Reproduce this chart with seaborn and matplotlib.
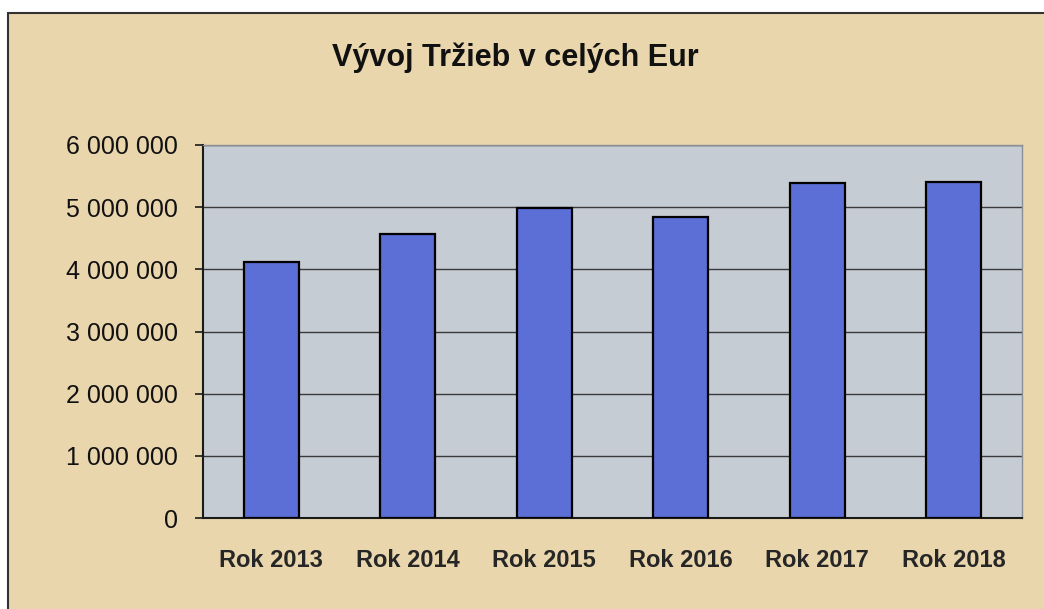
import matplotlib
matplotlib.use("Agg")
import matplotlib.pyplot as plt
import seaborn as sns
import pandas as pd
from matplotlib.patches import Rectangle
from matplotlib.ticker import FuncFormatter, MultipleLocator

categories = ["Rok 2013", "Rok 2014", "Rok 2015", "Rok 2016", "Rok 2017", "Rok 2018"]
trzby = [4120000, 4570000, 4990000, 4840000, 5390000, 5400000]
title = "Vývoj Tržieb v celých Eur"

df = pd.DataFrame({"rok": categories, "trzby": trzby})

sns.set_theme(style="white")
plt.rcParams["font.family"] = ["Liberation Sans", "DejaVu Sans"]

W, H = 1044, 609
fig = plt.figure(figsize=(W / 100, H / 100), dpi=100)
fig.patch.set_facecolor("white")

# parchment background with frame on top/left
bg = Rectangle((8 / W, -0.1), 1.2, 1.1 - 13 / H, transform=fig.transFigure,
               facecolor="#e9d6ad", edgecolor="#333333", linewidth=1.5, zorder=-10)
fig.patches.append(bg)

ax = fig.add_axes([203 / W, 1 - 518 / H, (1022 - 203) / W, (518 - 145) / H])
ax.set_facecolor("#c5ccd3")

sns.barplot(data=df, x="rok", y="trzby", ax=ax, color="#5b6fd6", width=0.4,
            edgecolor="black", linewidth=1.6, saturation=1, zorder=3)

ax.set_ylim(0, 6000000)
ax.yaxis.set_major_locator(MultipleLocator(1000000))
ax.yaxis.set_major_formatter(FuncFormatter(lambda v, p: f"{int(v):,}".replace(",", " ")))
ax.grid(axis="y", color="#3a3a3a", linewidth=1.0, zorder=1)
ax.set_axisbelow(True)

for s in ["top", "right"]:
    ax.spines[s].set_color("#8a8f96")
    ax.spines[s].set_linewidth(1.0)
for s in ["left", "bottom"]:
    ax.spines[s].set_color("#1a1a1a")
    ax.spines[s].set_linewidth(1.5)

ax.set_xlabel("")
ax.set_ylabel("")
ax.tick_params(axis="y", which="major", direction="out", length=6, width=1.2,
               color="#1a1a1a", labelsize=18, pad=12, left=True)
ax.tick_params(axis="x", length=0, labelsize=17, pad=22)
for lab in ax.get_xticklabels():
    lab.set_fontweight("bold")
for lab in ax.get_yticklabels():
    lab.set_color("#111111")

fig.text(515 / W, 1 - 58 / H, title, ha="center", va="center",
         fontsize=22, fontweight="bold", color="#111111")

fig.savefig("out.png", dpi=100, facecolor=fig.get_facecolor())
